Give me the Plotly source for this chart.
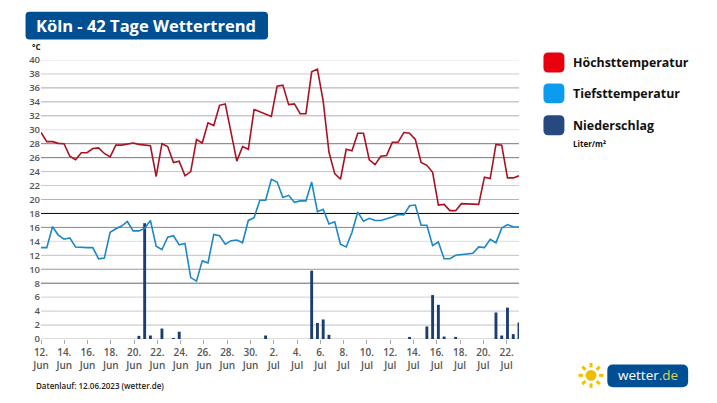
import plotly.graph_objects as go

W = 717
H = 403
# plot area in pixels
L, R, T, B = 40.5, 519.5, 59.5, 339.5

high = [29.6, 28.3, 28.3, 28.05, 28.0, 26.2, 25.7, 26.7, 26.7, 27.3, 27.4, 26.6, 26.1, 27.8,
        27.8, 27.9, 28.1, 27.9, 27.8, 27.7, 23.3, 28.0, 27.6, 25.3, 25.5, 23.4, 24.0, 28.6,
        28.1, 31.0, 30.6, 33.5, 33.7, 29.4, 25.5, 27.6, 27.2, 32.9, 32.6, 32.3, 31.9, 36.25,
        36.4, 33.6, 33.7, 32.3, 32.3, 38.3, 38.7, 34.1, 26.8, 23.7, 22.9, 27.2, 27.0, 29.5,
        29.5, 25.7, 25.0, 26.2, 26.3, 28.2, 28.2, 29.6, 29.5, 28.6, 25.3, 24.9, 23.9, 19.2,
        19.3, 18.4, 18.4, 19.4, 19.4, 19.4, 19.3, 23.2, 23.0, 27.9, 27.8, 23.1, 23.1, 23.4]
low = [13.1, 13.1, 16.1, 14.9, 14.3, 14.5, 13.2, 13.1, 13.1, 13.1, 11.5, 11.6, 15.3, 15.8,
       16.2, 16.85, 15.5, 15.5, 15.85, 17.0, 13.3, 12.8, 14.6, 14.8, 13.5, 13.7, 8.8, 8.3,
       11.2, 10.9, 15.0, 14.8, 13.6, 14.1, 14.2, 13.8, 17.0, 17.4, 19.9, 19.9, 22.9, 22.5,
       20.3, 20.6, 19.6, 19.8, 19.8, 22.5, 18.25, 18.6, 16.5, 16.8, 13.6, 13.2, 15.3, 18.2,
       16.9, 17.3, 17.0, 17.0, 17.2, 17.5, 17.85, 17.8, 19.1, 19.2, 16.3, 16.3, 13.4, 13.9,
       11.5, 11.5, 12.0, 12.1, 12.3, 12.3, 13.2, 13.1, 14.3, 13.8, 15.9, 16.4, 16.1, 16.05]
rain_idx = [17, 18, 19, 21, 23, 24, 39, 47, 48, 49, 50, 64, 67, 68, 69, 70, 72, 79, 80, 81, 82, 83]
rain = [0.45, 16.6, 0.5, 1.5, 0.1, 1.05, 0.5, 9.8, 2.3, 2.8, 0.6, 0.3, 1.8, 6.3, 4.9, 0.35, 0.3,
        3.8, 0.5, 4.5, 0.7, 2.35]

tick_labels = ["12.<br>Jun", "14.<br>Jun", "16.<br>Jun", "18.<br>Jun", "20.<br>Jun", "22.<br>Jun",
               "24.<br>Jun", "26.<br>Jun", "28.<br>Jun", "30.<br>Jun", "2.<br>Jul", "4.<br>Jul",
               "6.<br>Jul", "8.<br>Jul", "10.<br>Jul", "12.<br>Jul", "14.<br>Jul", "16.<br>Jul",
               "18.<br>Jul", "20.<br>Jul", "22.<br>Jul"]
y_levels = list(range(0, 41, 2))
# the gridlines come out in uneven greys in the picture
grid_greys = ["#b8b8b8", "#c0c0c0", "#c8c8c8", "#d0d0d0", "#666666", "#9a9a9a", "#c0c0c0", "#dddddd",
              "#888888", "#000000", "#b4b4b4", "#cccccc", "#c4c4c4", "#777777", "#777777", "#e2e2e2",
              "#b0b0b0", "#b0b0b0", "#a8a8a8", "#cccccc", "#e2e2e2"]

x_span = 83.0  # 84 half day samples
px_per_unit = (R - L) / x_span
tick_step = 23.33 / px_per_unit


def px(x):
    return (x - L) / (R - L)


def py(y):
    return (B - y) / (B - T)


def rounded(x0, y0, x1, y1, r):
    a, b, c, d = px(x0), px(x1), py(y0), py(y1)
    rx = r / (R - L)
    ry = r / (B - T)
    return (f"M{a + rx},{c} L{b - rx},{c} Q{b},{c} {b},{c - ry} L{b},{d + ry} Q{b},{d} {b - rx},{d} "
            f"L{a + rx},{d} Q{a},{d} {a},{d + ry} L{a},{c - ry} Q{a},{c} {a + rx},{c} Z")


def label(x, y, text, size, color="#111111", weight="bold", anchor="left"):
    fig.add_annotation(x=px(x), y=py(y), xref="paper", yref="paper", text=text, showarrow=False,
                       xanchor=anchor, yanchor="middle", xshift=0, yshift=0,
                       font=dict(family="Open Sans", size=size, color=color, weight=weight))


def box(x0, y0, x1, y1, r, color):
    fig.add_shape(type="path", path=rounded(x0, y0, x1, y1, r), xref="paper", yref="paper",
                  fillcolor=color, line=dict(width=0), layer="above")


fig = go.Figure()

for level, grey in zip(y_levels, grid_greys):
    fig.add_hline(y=level, line=dict(color=grey, width=1), layer="below")

fig.add_trace(go.Bar(x=rain_idx, y=rain, width=0.5, marker=dict(color="#1c3d70", line=dict(width=0))))
fig.add_trace(go.Scatter(x=list(range(len(low))), y=low, mode="lines",
                         line=dict(color="#1b87c6", width=1.6)))
fig.add_trace(go.Scatter(x=list(range(len(high))), y=high, mode="lines",
                         line=dict(color="#ad1022", width=1.6)))

fig.update_layout(
    width=W, height=H, autosize=False, showlegend=False,
    margin=dict(l=L, r=W - R, t=T, b=H - B, pad=0),
    paper_bgcolor="white", plot_bgcolor="white",
    font=dict(family="Open Sans", size=10, color="#555555"),
)
fig.update_xaxes(range=[0, x_span], tickmode="array",
                 tickvals=[i * tick_step for i in range(len(tick_labels))],
                 ticktext=tick_labels, ticks="outside", ticklen=4, tickcolor="#aaaaaa", tickangle=0,
                 showgrid=False, zeroline=False, showline=False,
                 tickfont=dict(family="Open Sans", size=10, color="#555555", weight=600))
fig.update_yaxes(range=[0, 40], tickmode="array", tickvals=y_levels, showgrid=False, zeroline=False,
                 ticks="", tickfont=dict(family="Open Sans", size=9.5, color="#555555", weight=600))

# header
box(25, 11, 268, 39, 4, "#004f93")
label(33, 25, "Köln - 42 Tage Wettertrend", 16.5, "white")
label(29, 46, "°C", 8, "#222222")
label(33, 386, "Datenlauf: 12.06.2023 (wetter.de)", 8, "#222222", 600)

# legend
box(544, 52, 565, 72, 5, "#e8000f")
box(544, 83, 565, 103, 5, "#0b9bef")
box(544, 115, 565, 135, 5, "#264a80")
label(572, 62, "Höchsttemperatur", 12.4)
label(572, 93, "Tiefsttemperatur", 12.4)
label(572, 125, "Niederschlag", 12.4)
label(572, 143, "Liter/m²", 8)

# logo
cx, cy = 591.7, 376
rays = [(1, 0), (0.7, 0.7), (0, 1), (-0.7, 0.7), (-1, 0), (-0.7, -0.7), (0, -1), (0.7, -0.7)]
for dx, dy in rays:
    fig.add_shape(type="line", xref="paper", yref="paper", x0=px(cx + 8 * dx), y0=py(cy + 8 * dy),
                  x1=px(cx + 12.5 * dx), y1=py(cy + 12.5 * dy), line=dict(color="#f2c200", width=3))
fig.add_shape(type="circle", xref="paper", yref="paper", x0=px(cx - 5.5), x1=px(cx + 5.5),
              y0=py(cy - 5.5), y1=py(cy + 5.5), fillcolor="#efbd00", line=dict(width=0))
box(608, 365, 689, 388, 6, "#004f95")
label(648.5, 376, "<span style='color:white'>wetter</span><span style='color:#d8d84a'>.de</span>", 13.5,
      "white", "normal", "center")

# the page margin would push the whole chart off by 8px
fig.write_html("out.html", post_script="document.body.style.margin='0'",
               config={"displayModeBar": False})
